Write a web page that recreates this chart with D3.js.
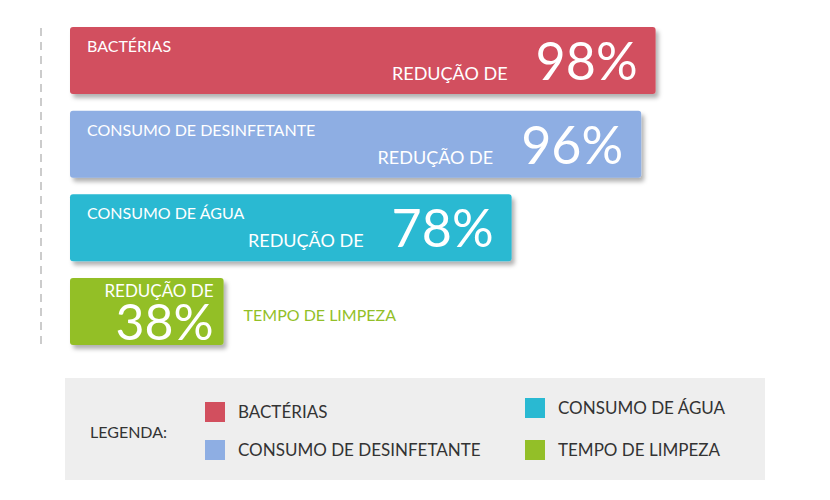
<!DOCTYPE html>
<html><head><meta charset="utf-8">
<script src="https://cdn.jsdelivr.net/npm/d3@7"></script>
<style>body{margin:0;background:#fff}svg{font-family:"Lato","Open Sans",sans-serif}</style>
</head><body><svg id="c" width="830" height="500"></svg>
<script>
const categories = ["BACTÉRIAS", "CONSUMO DE DESINFETANTE", "CONSUMO DE ÁGUA", "TEMPO DE LIMPEZA"];
const values = [98, 96, 78, 38];
const colors = ["#d24f5e", "#8eaee3", "#29b9d2", "#93bf28"];
const prefix = "REDUÇÃO DE";

const svg = d3.select("#c");
const defs = svg.append("defs");
defs.append("filter").attr("id", "sh").attr("x", "-5%").attr("y", "-20%").attr("width", "115%").attr("height", "150%")
    .append("feDropShadow").attr("dx", 3).attr("dy", 4).attr("stdDeviation", 2).attr("flood-color", "#000").attr("flood-opacity", 0.3);

const x = d3.scaleLinear().domain([0, 100]).range([-120, 600]);
const y = d3.scaleBand().domain(categories).range([27, 345]).paddingInner(0.2).paddingOuter(0);
const x0 = 70;

svg.append("line").attr("x1", 41).attr("x2", 41).attr("y1", 28).attr("y2", 345)
    .attr("stroke", "#ccc").attr("stroke-width", 2).attr("stroke-dasharray", "8,6");

const g = svg.selectAll(".bar").data(categories).enter().append("g");
g.append("rect").attr("x", x0).attr("y", d => y(d))
    .attr("width", (d, i) => x(values[i])).attr("height", y.bandwidth())
    .attr("rx", 3).attr("fill", (d, i) => colors[i]).attr("filter", "url(#sh)");

g.each(function (d, i) {
    const s = d3.select(this), top = y(d), right = x0 + x(values[i]);
    if (i < 3) {
        s.append("text").attr("x", 87).attr("y", top + 25).attr("fill", "#fff").attr("font-size", 16).text(d);
        s.append("text").attr("x", right - 18).attr("y", top + 53).attr("text-anchor", "end")
            .attr("fill", "#fff").attr("font-size", 52).text(values[i] + "%");
        s.append("text").attr("x", right - 148).attr("y", top + 53).attr("text-anchor", "end")
            .attr("fill", "#fff").attr("font-size", 18).text(prefix);
    } else {
        s.append("text").attr("x", right - 10).attr("y", top + 19).attr("text-anchor", "end")
            .attr("fill", "#fff").attr("font-size", 17).text(prefix);
        s.append("text").attr("x", right - 10).attr("y", top + 62).attr("text-anchor", "end")
            .attr("fill", "#fff").attr("font-size", 50).text(values[i] + "%");
        s.append("text").attr("x", right + 20).attr("y", top + 43).attr("fill", colors[i]).attr("font-size", 16).text(d);
    }
});

// legend
svg.append("rect").attr("x", 65).attr("y", 378).attr("width", 700).attr("height", 102).attr("fill", "#eeeeee");
svg.append("text").attr("x", 90).attr("y", 438).attr("fill", "#333").attr("font-size", 16).text("LEGENDA:");
const lpos = [[205, 402], [205, 440], [525, 398], [525, 440]];
categories.forEach((c, i) => {
    svg.append("rect").attr("x", lpos[i][0]).attr("y", lpos[i][1]).attr("width", 20).attr("height", 20).attr("fill", colors[i]);
    svg.append("text").attr("x", lpos[i][0] + 33).attr("y", lpos[i][1] + 16).attr("fill", "#333").attr("font-size", 17).text(c);
});
</script></body></html>
